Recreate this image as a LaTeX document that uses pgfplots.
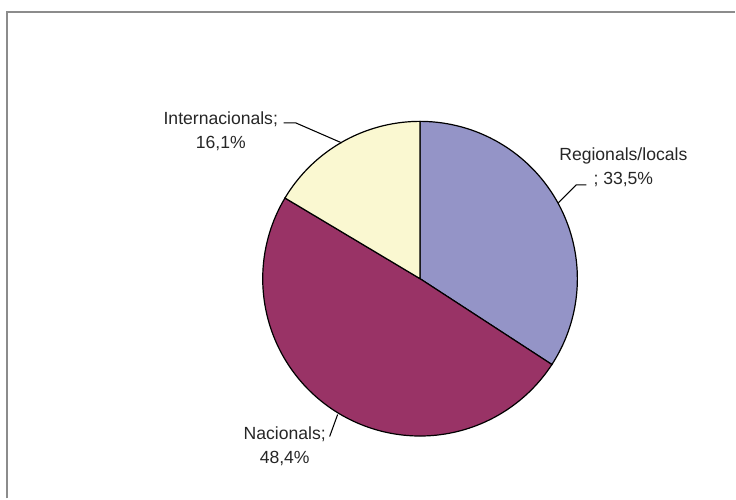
\documentclass[border=0pt]{standalone}
\usepackage{pgfplots}
\pgfplotsset{compat=1.18}
\usepackage{pgfplotstable}
\usepackage{fontspec}
\setmainfont{Liberation Sans}
\definecolor{lav}{HTML}{9494C7}
\definecolor{mar}{HTML}{993366}
\definecolor{ylw}{HTML}{FAF8D1}
\definecolor{frame}{HTML}{8C8C8C}
\pgfplotstableread{
label value
Regionals 33.5
Nacionals 48.4
Internacionals 16.1
}\piedata
\pgfplotstablegetelem{0}{value}\of\piedata \let\va\pgfplotsretval
\pgfplotstablegetelem{1}{value}\of\piedata \let\vb\pgfplotsretval
\pgfplotstablegetelem{2}{value}\of\piedata \let\vc\pgfplotsretval
\pgfmathsetmacro\tot{\va+\vb+\vc}
\pgfmathsetmacro\aA{90-360*(\va/\tot)}
\pgfmathsetmacro\aB{\aA-360*(\vb/\tot)}
\pgfmathsetmacro\aC{\aB-360*(\vc/\tot)}
\def\cx{420.5}\def\cy{220}\def\R{157.5}
\begin{document}
\begin{tikzpicture}[font=\fontsize{13.2}{18}\selectfont]
\begin{axis}[scale only axis, width=552pt, height=374.25pt,
  xmin=0, xmax=736, ymin=0, ymax=499, hide axis, clip=false]
\path (axis cs:0,0) rectangle (axis cs:736,499);
\draw[frame, line width=1.2pt] (axis cs:7,0) -- (axis cs:7,487) -- (axis cs:736,487);
\addplot[fill=lav, draw=black, line width=0.9pt, domain=\aA:90, samples=90, variable=\t]
  ({\cx+\R*cos(\t)},{\cy+\R*sin(\t)}) -- (axis cs:\cx,\cy) -- cycle;
\addplot[fill=mar, draw=black, line width=0.9pt, domain=\aB:\aA, samples=120, variable=\t]
  ({\cx+\R*cos(\t)},{\cy+\R*sin(\t)}) -- (axis cs:\cx,\cy) -- cycle;
\addplot[fill=ylw, draw=black, line width=0.9pt, domain=\aC:\aB, samples=60, variable=\t]
  ({\cx+\R*cos(\t)},{\cy+\R*sin(\t)}) -- (axis cs:\cx,\cy) -- cycle;
\draw[line width=0.8pt] (axis cs:284,376) -- (axis cs:296,376) -- (axis cs:342,356);
\draw[line width=0.8pt] (axis cs:587,314) -- (axis cs:577,314) -- (axis cs:559,296);
\draw[line width=0.8pt] (axis cs:330,62) -- (axis cs:338,84);
\node[align=center, text=black!85] at (axis cs:221,367.5) {Internacionals;\\16,1\%};
\node[align=center, text=black!85] at (axis cs:624,332) {Regionals/locals\\; 33,5\%};
\node[align=center, text=black!85] at (axis cs:285,52.5) {Nacionals;\\48,4\%};
\end{axis}
\end{tikzpicture}
\end{document}
